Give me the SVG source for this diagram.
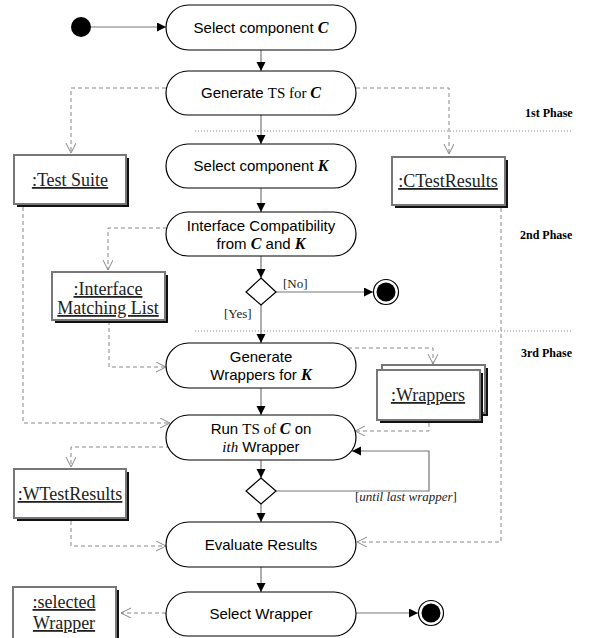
<svg xmlns="http://www.w3.org/2000/svg" width="590" height="638" viewBox="0 0 590 638">
<defs>
<marker id="solid" markerUnits="userSpaceOnUse" markerWidth="10" markerHeight="10" refX="9" refY="4.5" orient="auto"><path d="M0,0 L9,4.5 L0,9 z" fill="#000"/></marker>
<marker id="open" markerUnits="userSpaceOnUse" markerWidth="12" markerHeight="12" refX="10" refY="5" orient="auto"><path d="M0,0 L10,5 L0,10" fill="none" stroke="#888" stroke-width="1"/></marker>
</defs>
<style>
.act{fill:#fff;stroke:#000;stroke-width:1.2}
.t{font-family:"Liberation Sans",Arial,sans-serif;font-size:15px;fill:#000;text-anchor:middle}
.s{font-family:"Liberation Serif","Times New Roman",serif}
.bi{font-family:"Liberation Serif","Times New Roman",serif;font-weight:bold;font-style:italic;font-size:16px}
.ctrl{fill:none;stroke:#777;stroke-width:1.2}
.flow{fill:none;stroke:#888;stroke-width:1;stroke-dasharray:4,3}
.phase{fill:none;stroke:#888;stroke-width:1;stroke-dasharray:1,2}
.obj{fill:#fff;stroke:#777;stroke-width:2}
.sh{fill:#111}
.ol{font-family:"Liberation Serif","Times New Roman",serif;font-size:18px;fill:#222;text-anchor:middle;text-decoration:underline}
.ph{font-family:"Liberation Serif","Times New Roman",serif;font-size:12px;font-weight:bold;fill:#000}
.g{font-family:"Liberation Serif","Times New Roman",serif;font-size:13px;fill:#222}
</style>

<g id="connectors">
<line class="ctrl" x1="91" y1="27" x2="166" y2="27" marker-end="url(#solid)"/>
<line class="ctrl" x1="261" y1="50" x2="261" y2="71" marker-end="url(#solid)"/>
<line class="ctrl" x1="261" y1="115" x2="261" y2="144" marker-end="url(#solid)"/>
<line class="ctrl" x1="261" y1="188" x2="261" y2="212" marker-end="url(#solid)"/>
<line class="ctrl" x1="261" y1="256" x2="261" y2="278" marker-end="url(#solid)"/>
<line class="ctrl" x1="261" y1="305" x2="261" y2="343" marker-end="url(#solid)"/>
<line class="ctrl" x1="276" y1="292" x2="373" y2="292" marker-end="url(#solid)"/>
<line class="ctrl" x1="261" y1="388" x2="261" y2="415" marker-end="url(#solid)"/>
<line class="ctrl" x1="261" y1="460" x2="261" y2="478" marker-end="url(#solid)"/>
<polyline class="ctrl" points="276,491 429,491 429,451 352,451" marker-end="url(#solid)"/>
<line class="ctrl" x1="261" y1="504" x2="261" y2="522" marker-end="url(#solid)"/>
<line class="ctrl" x1="261" y1="567" x2="261" y2="592" marker-end="url(#solid)"/>
<line class="ctrl" x1="356" y1="613" x2="418" y2="613" marker-end="url(#solid)"/>

<polyline class="flow" points="166,88 71,88 71,153" marker-end="url(#open)"/>
<polyline class="flow" points="356,88 449,88 449,154" marker-end="url(#open)"/>
<polyline class="flow" points="23,207 23,423 170,423" marker-end="url(#open)"/>
<polyline class="flow" points="167,228 108,228 108,270" marker-end="url(#open)"/>
<polyline class="flow" points="109,321 109,367 166,367" marker-end="url(#open)"/>
<polyline class="flow" points="348,348 433,348 433,364" marker-end="url(#open)"/>
<polyline class="flow" points="429,423 429,431 355,431" marker-end="url(#open)"/>
<polyline class="flow" points="170,447 71,447 71,467" marker-end="url(#open)"/>
<polyline class="flow" points="71,521 71,546 166,546" marker-end="url(#open)"/>
<polyline class="flow" points="501,208 501,542 357,542" marker-end="url(#open)"/>
<line class="flow" x1="166" y1="613" x2="121" y2="613" marker-end="url(#open)"/>

<line class="phase" x1="195" y1="131" x2="573" y2="131"/>
<line class="phase" x1="195" y1="331" x2="573" y2="331"/>
<text class="g" x="283" y="288">[No]</text>
<text class="g" x="224" y="318">[Yes]</text>
<text class="g" x="355" y="501">[<tspan font-style="italic">until last wrapper</tspan>]</text>
</g>

<g id="phases">
<text class="ph" x="525" y="117">1st Phase</text>
<text class="ph" x="520" y="239">2nd Phase</text>
<text class="ph" x="521" y="357">3rd Phase</text>
</g>

<g id="start"><circle cx="81" cy="27" r="10" fill="#000"/></g>

<g id="n_select_c">
<rect class="act" x="166" y="5" width="190" height="45" rx="22.5"/>
<text class="t" x="261" y="33">Select component <tspan class="bi">C</tspan></text>
</g>
<g id="n_gen_ts">
<rect class="act" x="166" y="71" width="190" height="44" rx="22"/>
<text class="t" x="261" y="98">Generate <tspan class="s">TS for </tspan><tspan class="bi">C</tspan></text>
</g>
<g id="n_select_k">
<rect class="act" x="166" y="144" width="190" height="44" rx="22"/>
<text class="t" x="261" y="171">Select component <tspan class="bi">K</tspan></text>
</g>
<g id="n_iface">
<rect class="act" x="166" y="212" width="190" height="44" rx="22"/>
<text class="t" x="261" y="231">Interface Compatibility</text>
<text class="t" x="261" y="249">from <tspan class="bi">C</tspan> and <tspan class="bi">K</tspan></text>
</g>
<g id="d1"><path d="M261,278 L276,292 L261,305 L246,292 z" fill="#fff" stroke="#000" stroke-width="1.2"/></g>
<g id="end1"><circle cx="386" cy="292" r="12.5" fill="#fff" stroke="#000" stroke-width="1.2"/><circle cx="386" cy="292" r="9.5" fill="#000"/></g>
<g id="n_gen_wr">
<rect class="act" x="166" y="343" width="190" height="45" rx="22.5"/>
<text class="t" x="261" y="362">Generate</text>
<text class="t" x="261" y="380">Wrappers for <tspan class="bi">K</tspan></text>
</g>
<g id="n_run_ts">
<rect class="act" x="166" y="415" width="190" height="45" rx="22.5"/>
<text class="t" x="261" y="434">Run <tspan class="s">TS of </tspan><tspan class="bi">C</tspan> on</text>
<text class="t" x="261" y="452"><tspan class="s" font-style="italic">ith</tspan> Wrapper</text>
</g>
<g id="d2"><path d="M261,478 L276,491 L261,504 L246,491 z" fill="#fff" stroke="#000" stroke-width="1.2"/></g>
<g id="n_eval">
<rect class="act" x="166" y="522" width="190" height="45" rx="22.5"/>
<text class="t" x="261" y="550">Evaluate Results</text>
</g>
<g id="n_sel_w">
<rect class="act" x="166" y="592" width="190" height="44" rx="22"/>
<text class="t" x="261" y="619">Select Wrapper</text>
</g>
<g id="end2"><circle cx="431" cy="613" r="12.5" fill="#fff" stroke="#000" stroke-width="1.2"/><circle cx="431" cy="613" r="9.5" fill="#000"/></g>

<g id="o_test_suite">
<rect class="sh" x="17" y="158" width="112" height="49"/>
<rect class="obj" x="14" y="155" width="112" height="49"/>
<text class="ol" x="70" y="186">:Test Suite</text>
</g>
<g id="o_ctest">
<rect class="sh" x="395" y="160" width="113" height="48"/>
<rect class="obj" x="392" y="157" width="113" height="48"/>
<text class="ol" x="448" y="187">:CTestResults</text>
</g>
<g id="o_iml">
<rect class="sh" x="55" y="275" width="113" height="48"/>
<rect class="obj" x="52" y="272" width="113" height="48"/>
<text class="ol" x="108" y="295">:Interface</text>
<text class="ol" x="108" y="314">Matching List</text>
</g>
<g id="o_wrappers">
<rect class="sh" x="385" y="368" width="103" height="48"/>
<rect class="obj" x="382" y="365" width="103" height="48"/>
<rect class="sh" x="380" y="373" width="103" height="50"/>
<rect class="obj" x="377" y="370" width="103" height="50"/>
<text class="ol" x="428" y="401">:Wrappers</text>
</g>
<g id="o_wtest">
<rect class="sh" x="17" y="472" width="112" height="49"/>
<rect class="obj" x="14" y="469" width="112" height="49"/>
<text class="ol" x="70" y="500">:WTestResults</text>
</g>
<g id="o_selected">
<rect class="sh" x="16" y="590" width="103" height="55"/>
<rect class="obj" x="13" y="587" width="103" height="55"/>
<text class="ol" x="64" y="608">:selected</text>
<text class="ol" x="64" y="629">Wrapper</text>
</g>
</svg>
